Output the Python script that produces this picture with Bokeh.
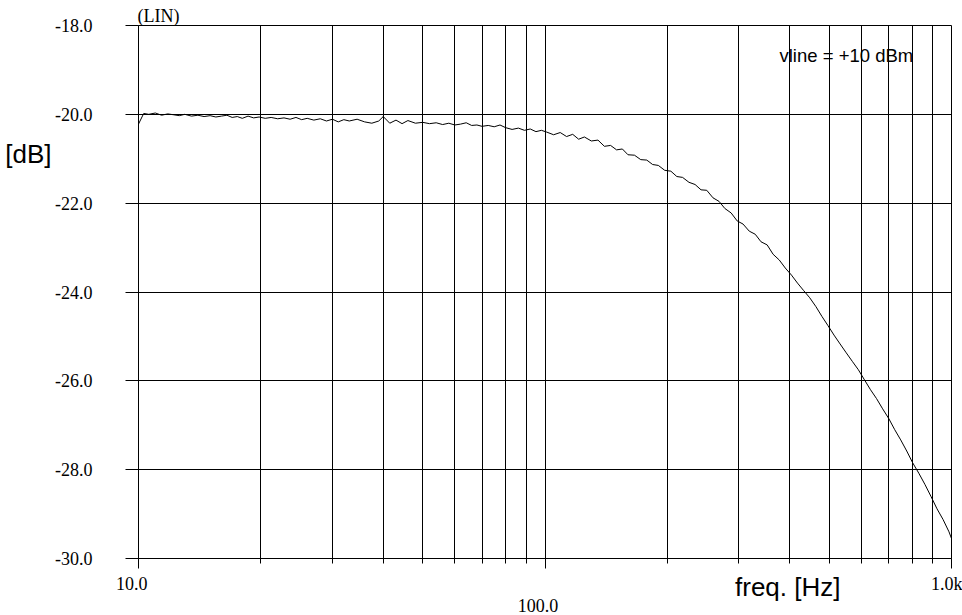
import math
from bokeh.plotting import figure
from bokeh.models import (Range1d, FixedTicker, Label, ColumnDataSource, LogAxis,
                          LinearAxis, CustomJSTickFormatter)
from bokeh.embed import file_html
from bokeh.resources import INLINE

freq = [10, 10.3, 10.6, 11, 11.4, 11.8, 12.2, 12.6, 13, 13.5, 14, 14.5, 15, 15.5, 16, 16.5,
        17, 17.5, 18, 18.6, 19.2, 19.8, 20.5, 21.2, 22, 22.8, 23.6, 24.4, 25.2, 26, 27, 28,
        29, 30, 31, 32, 33, 34.5, 36, 37.5, 39, 40, 41.5, 43, 44.5, 46, 48, 50, 52, 54, 56,
        58, 60, 62, 64, 66, 68, 70, 72.5, 75, 77.5, 80, 83, 86, 89, 92, 95, 98, 101, 105,
        109, 113, 117, 121, 125, 130, 135, 140, 145, 150, 155, 160, 166, 172, 178, 184, 190,
        197, 204, 211, 218, 226, 234, 242, 250, 259, 268, 277, 287, 297, 307, 318, 329, 340,
        352, 364, 377, 390, 404, 418, 433, 448, 464, 480, 497, 514, 532, 551, 570, 590, 611,
        632, 654, 677, 701, 725, 750, 776, 803, 831, 860, 890, 921, 953, 986, 1000]

level_db = [-20.22, -19.98, -20.00, -19.97, -20.02, -19.99, -20.01, -20.03, -20.00, -20.04,
            -20.02, -20.05, -20.03, -20.06, -20.04, -20.02, -20.07, -20.05, -20.09, -20.04,
            -20.08, -20.06, -20.09, -20.07, -20.10, -20.08, -20.11, -20.07, -20.12, -20.09,
            -20.13, -20.10, -20.15, -20.11, -20.17, -20.12, -20.15, -20.11, -20.17, -20.20,
            -20.15, -20.05, -20.20, -20.13, -20.21, -20.14, -20.20, -20.18, -20.21, -20.19,
            -20.23, -20.20, -20.24, -20.22, -20.19, -20.25, -20.24, -20.27, -20.25, -20.28,
            -20.24, -20.30, -20.34, -20.31, -20.36, -20.33, -20.39, -20.36, -20.40, -20.46,
            -20.41, -20.50, -20.45, -20.56, -20.51, -20.60, -20.58, -20.72, -20.70, -20.80,
            -20.78, -20.91, -20.92, -21.02, -21.03, -21.13, -21.15, -21.26, -21.28, -21.40,
            -21.42, -21.53, -21.58, -21.70, -21.71, -21.88, -21.96, -22.12, -22.22, -22.40,
            -22.47, -22.63, -22.70, -22.87, -22.94, -23.15, -23.28, -23.46, -23.62, -23.80,
            -23.97, -24.13, -24.33, -24.55, -24.76, -24.97, -25.17, -25.37, -25.56, -25.75,
            -25.98, -26.20, -26.40, -26.63, -26.85, -27.10, -27.33, -27.58, -27.85, -28.08,
            -28.33, -28.60, -28.88, -29.12, -29.40, -29.55]

x_major = [10, 100, 1000]
x_minor = [20, 30, 40, 50, 60, 70, 80, 90, 200, 300, 400, 500, 600, 700, 800, 900]
x_tick_labels = ["10.0", "100.0", "1.0k"]
y_ticks = [-30, -28, -26, -24, -22, -20, -18]
y_tick_labels = ["-30.0", "-28.0", "-26.0", "-24.0", "-22.0", "-20.0", "-18.0"]

x_title = "freq. [Hz]"
y_title = "[dB]"
corner_text = "(LIN)"
note_text = "vline = +10 dBm"

SERIF = "'Liberation Serif'"
SANS = "'Liberation Sans'"
SERIF_SIZE = "18px"
SANS_SIZE = "26px"

# layout helpers (pixel placement of the label-only axes)
PX_PER_DECADE = 406.5
x_title_at = 10 ** (math.log10(400) - 2 / PX_PER_DECADE)      # centre of "freq. [Hz]"
mid_label_at = 10 ** (math.log10(100) - 7 / PX_PER_DECADE)    # centre of "100.0"
y_title_at = -20.90                                           # centre of "[dB]"

p = figure(width=962, height=615, x_axis_type="log", output_backend="svg",
           toolbar_location=None, x_range=Range1d(10, 1000), y_range=Range1d(-30, -18),
           min_border_left=138, min_border_right=11, min_border_top=25, min_border_bottom=57)
p.background_fill_color = "white"
p.border_fill_color = "white"
p.outline_line_color = "black"
p.outline_line_width = 1

p.title.text = corner_text
p.title.align = "left"
p.title.offset = -1
p.title.standoff = 0
p.title.text_font = SERIF
p.title.text_font_size = SERIF_SIZE
p.title.text_font_style = "normal"
p.title.text_color = "black"

# main x axis: ticks + outer labels at 10 and 1k
xa = p.xaxis[0]
xa.ticker = FixedTicker(ticks=x_major, minor_ticks=x_minor)
xa.formatter = CustomJSTickFormatter(
    args=dict(tv=x_major, lab=x_tick_labels, pad=[3, 0, 0], show=[1, 0, 1]),
    code="""
    for (let i = 0; i < tv.length; i++) {
        if (Math.abs(tick - tv[i]) < 1e-6 * tv[i]) {
            return show[i] ? lab[i] + " ".repeat(pad[i]) : " ";
        }
    }
    return " ";
    """)
xa.major_label_text_font = SERIF
xa.major_label_text_font_size = SERIF_SIZE
xa.major_label_text_color = "black"
xa.major_label_standoff = 5
xa.axis_line_color = "black"
xa.major_tick_line_color = "black"
xa.minor_tick_line_color = "black"
xa.major_tick_out = 10
xa.major_tick_in = 0
xa.minor_tick_out = 5
xa.minor_tick_in = 0

# label-only axis for "freq. [Hz]"
xt = LogAxis(ticker=FixedTicker(ticks=[x_title_at], minor_ticks=[]),
             formatter=CustomJSTickFormatter(args=dict(t=x_title), code="return t;"))
xt.axis_line_color = None
xt.major_tick_line_color = None
xt.minor_tick_line_color = None
xt.major_tick_out = 0
xt.major_tick_in = 0
xt.major_label_standoff = -25
xt.major_label_text_font = SANS
xt.major_label_text_font_size = SANS_SIZE
xt.major_label_text_color = "black"
p.add_layout(xt, "below")

# label-only axis for the staggered "100.0"
xm = LogAxis(ticker=FixedTicker(ticks=[mid_label_at], minor_ticks=[]),
             formatter=CustomJSTickFormatter(args=dict(t=x_tick_labels[1]), code="return t;"))
xm.axis_line_color = None
xm.major_tick_line_color = None
xm.minor_tick_line_color = None
xm.major_tick_out = 0
xm.major_tick_in = 0
xm.major_label_standoff = -6
xm.major_label_text_font = SERIF
xm.major_label_text_font_size = SERIF_SIZE
xm.major_label_text_color = "black"
p.add_layout(xm, "below")

# y axis
ya = p.yaxis[0]
ya.ticker = FixedTicker(ticks=y_ticks, minor_ticks=[])
ya.formatter = CustomJSTickFormatter(
    args=dict(tv=y_ticks, lab=y_tick_labels),
    code="""
    for (let i = 0; i < tv.length; i++) {
        if (Math.abs(tick - tv[i]) < 1e-6) { return lab[i]; }
    }
    return " ";
    """)
ya.major_label_text_font = SERIF
ya.major_label_text_font_size = SERIF_SIZE
ya.major_label_text_color = "black"
ya.major_label_standoff = 33
ya.axis_line_color = "black"
ya.major_tick_line_color = "black"
ya.major_tick_out = 13
ya.major_tick_in = 0
ya.minor_tick_line_color = None

# label-only axis for "[dB]"
yt = LinearAxis(ticker=FixedTicker(ticks=[y_title_at], minor_ticks=[]),
                formatter=CustomJSTickFormatter(args=dict(t=y_title), code="return t;"))
yt.axis_line_color = None
yt.major_tick_line_color = None
yt.minor_tick_line_color = None
yt.major_tick_out = 0
yt.major_tick_in = 0
yt.major_label_standoff = 1
yt.major_label_text_font = SANS
yt.major_label_text_font_size = SANS_SIZE
yt.major_label_text_color = "black"
p.add_layout(yt, "left")

p.xgrid.grid_line_color = "black"
p.xgrid.grid_line_alpha = 1
p.xgrid.minor_grid_line_color = "black"
p.ygrid.grid_line_color = "black"
p.ygrid.grid_line_alpha = 1

src = ColumnDataSource(dict(f=freq, db=level_db))
p.line("f", "db", source=src, line_color="black", line_width=1)

p.add_layout(Label(x=1000, y=-18, text=note_text, x_offset=-172, y_offset=-30,
                   text_align="left", text_baseline="alphabetic",
                   text_font=SANS, text_font_size="18.5px", text_color="black"))

open("out.html", "w").write(file_html(p, INLINE))
